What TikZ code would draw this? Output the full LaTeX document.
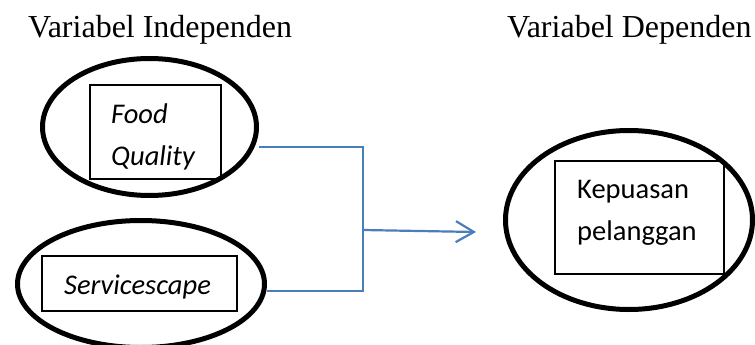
\documentclass[tikz,border=0pt]{standalone}
\usepackage{fontspec}
\setmainfont{Liberation Serif}
\newfontfamily\boxfont{Carlito}
\usetikzlibrary{shapes.geometric,arrows.meta}
\definecolor{linkblue}{HTML}{4A7EBB}

\begin{document}
\begin{tikzpicture}[x=1pt,y=-1pt,
  varellipse/.style={draw, ellipse, line width=5pt, inner sep=0pt},
  varbox/.style={draw, rectangle, line width=1.3pt, inner sep=0pt},
  boxtext/.style={inner sep=0pt, font=\boxfont\fontsize{28.5}{34}\selectfont},
  title/.style={anchor=base west, inner sep=0pt, font=\fontsize{32}{38}\selectfont},
  link/.style={draw=linkblue, line width=2.2pt}]
\useasboundingbox (0,0) rectangle (755,345);

% column headings
\node[title] (tIn) at (28,38) {Variabel Independen};
\node[title] (tDe) at (507,38) {Variabel Dependen};

% independent variables
\node[varellipse, minimum width=214pt, minimum height=137pt] (fqE) at (149.5,127) {};
\node[varbox, minimum width=131pt, minimum height=94pt] (fqB) at (155.5,132) {};
\node[boxtext, anchor=base west] (fqT1) at (111,123) {\itshape Food};
\node[boxtext, anchor=base west] (fqT2) at (111,165) {\itshape Quality};

\node[varellipse, minimum width=247pt, minimum height=127pt] (svE) at (141,284) {};
\node[varbox, minimum width=195pt, minimum height=55pt] (svB) at (139.5,283.5) {};
\node[boxtext, anchor=base] (svT) at (137.5,294) {\itshape Servicescape};

% dependent variable
\node[varellipse, minimum width=247pt, minimum height=179pt] (kpE) at (629,220) {};
\node[varbox, minimum width=169pt, minimum height=113pt] (kpB) at (639.5,217.5) {};
\node[boxtext, anchor=base west] (kpT1) at (577,198) {Kepuasan};
\node[boxtext, anchor=base west] (kpT2) at (577,240) {pelanggan};

% bracket joining both independent variables
\coordinate (jTop) at (363,147);
\coordinate (jBot) at (363,291);
\coordinate (jMid) at (363,230);
\coordinate (tip) at (476,232);
\draw[link] (fqE.east |- jTop) -- (jTop) -- (jBot) -- (svE.east |- jBot);
\draw[link, -{Straight Barb[length=18pt, width=21pt]}] (jMid) -- (tip);
\end{tikzpicture}
\end{document}
